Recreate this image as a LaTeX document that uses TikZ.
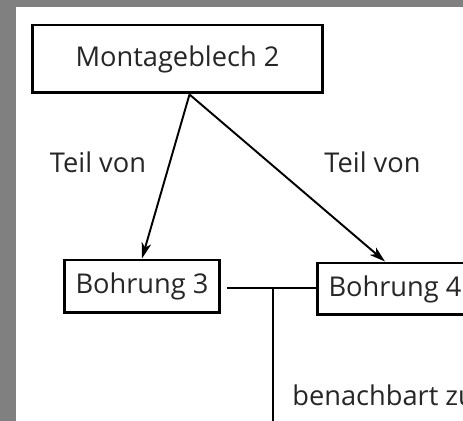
\documentclass[tikz,border=0pt]{standalone}
\usepackage{fontspec}
\setmainfont{Open Sans}
\usetikzlibrary{calc, arrows.meta}

\tikzset{
  box/.style={draw, line width=1.7pt, rectangle, inner sep=0pt, text=black!85, font=\fontsize{15.5}{18}\selectfont},
  lbl/.style={inner sep=0pt, text=black!85, font=\fontsize{15.5}{18}\selectfont},
  conn/.style={line width=1.1pt},
  arr/.style={conn, -{Stealth[length=9pt, width=5.5pt, inset=2.5pt]}}
}

\begin{document}
\begin{tikzpicture}[x=0.02cm, y=-0.02cm]
      % frame of the scan
      \useasboundingbox (0,0) rectangle (463,421);
      \fill[black!50] (0,0) rectangle (463,421);
      \fill[white] (16,7) rectangle (463,421);
      \clip (16,7) rectangle (463,421);

      % entities
      \node[box, minimum width=5.82cm, minimum height=1.36cm] (mb) at (177.5,59) {Montageblech 2};
      \node[box, minimum width=3.12cm, minimum height=1.06cm] (b3) at (142,286.5) {Bohrung 3};
      \node[box, minimum width=3.12cm, minimum height=1.04cm] (b4) at (395,289) {Bohrung 4};

      % part-of relations
      \draw[arr] ([xshift=0.24cm]mb.south) -- (b3.north);
      \draw[arr] ([xshift=0.24cm]mb.south) -- ([xshift=-0.2cm]b4.north);
      \node[lbl] (t1) at (98,162) {Teil von};
      \node[lbl] (t2) at (372.5,162) {Teil von};

      % neighbourhood
      \coordinate (jn) at (273,288);
      \coordinate (bot) at (273,430);
      \draw[conn, shorten <=3pt] (b3.east |- jn) -- (b4.west |- jn);
      \draw[conn] (jn) -- (bot);
      \node[lbl, anchor=west] (nb) at (292,395) {benachbart zu};
\end{tikzpicture}
\end{document}
